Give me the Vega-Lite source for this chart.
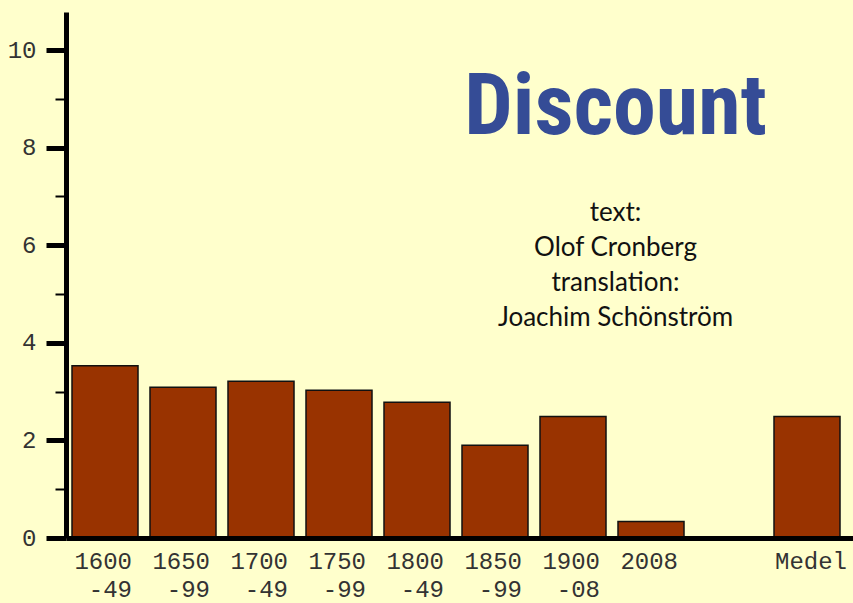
{
  "$schema": "https://vega.github.io/schema/vega-lite/v6.json",
  "autosize": {"type": "none"},
  "padding": {"left": 66, "top": 12, "right": 0, "bottom": 65},
  "width": 787,
  "height": 526,
  "background": "#FFFFCC",
  "config": {"view": {"stroke": null}},
  "title": {
    "text": "Discount",
    "subtitle": ["text:", "Olof Cronberg", "translation:", "Joachim Schönström"],
    "font": "Roboto Condensed, Open Sans Condensed, Liberation Sans Narrow, DejaVu Sans Condensed",
    "fontWeight": "bold",
    "fontSize": 86,
    "color": "#354C96",
    "subtitleFont": "Lato",
    "subtitleFontSize": 26,
    "subtitleColor": "#111111",
    "subtitleLineHeight": 35,
    "subtitlePadding": 48,
    "anchor": "middle",
    "frame": "group",
    "orient": "top",
    "dx": 156,
    "offset": -320
  },
  "data": {
    "values": [
      {"period": "1600 -49", "value": 3.53},
      {"period": "1650 -99", "value": 3.09},
      {"period": "1700 -49", "value": 3.21},
      {"period": "1750 -99", "value": 3.03},
      {"period": "1800 -49", "value": 2.78},
      {"period": "1850 -99", "value": 1.9},
      {"period": "1900 -08", "value": 2.49},
      {"period": "2008", "value": 0.34},
      {"period": "Medel", "value": 2.49}
    ]
  },
  "mark": {"type": "bar", "color": "#993300", "stroke": "#111111", "strokeWidth": 1.5},
  "encoding": {
    "x": {
      "field": "period",
      "type": "nominal",
      "sort": null,
      "scale": {
        "domain": ["1600 -49", "1650 -99", "1700 -49", "1750 -99", "1800 -49", "1850 -99", "1900 -08", "2008", "gap", "Medel"],
        "paddingInner": 0.1538,
        "paddingOuter": 0.1218,
        "align": 0.316
      },
      "axis": {
        "title": null,
        "ticks": false,
        "tickSize": 0,
        "labelAngle": 0,
        "labelExpr": "datum.value == 'gap' ? '' : split(datum.value, ' ')",
        "labelFont": "Liberation Mono",
        "labelFontSize": 24,
        "labelColor": "#333333",
        "labelLineHeight": 28,
        "labelPadding": 11,
        "labelBaseline": "top",
        "labelAlign": "right",
        "labelOffset": {"condition": {"test": "datum.value == 'Medel'", "value": 40}, "value": 27},
        "domainWidth": 5,
        "domainColor": "#000000",
        "zindex": 1
      }
    },
    "y": {
      "field": "value",
      "type": "quantitative",
      "scale": {"domain": [0, 10.78], "nice": false, "zero": true},
      "axis": {
        "title": null,
        "grid": false,
        "values": [0, 1, 2, 3, 4, 5, 6, 7, 8, 9, 10],
        "labelExpr": "datum.value % 2 == 0 ? datum.label : ''",
        "tickSize": {"condition": {"test": "datum.value % 2 == 0", "value": 20}, "value": 11},
        "tickWidth": {"condition": {"test": "datum.value % 2 == 0", "value": 5}, "value": 2},
        "tickColor": "#000000",
        "labelFont": "Liberation Mono",
        "labelFontSize": 24,
        "labelColor": "#333333",
        "labelPadding": 10,
        "domainWidth": 5,
        "domainColor": "#000000",
        "zindex": 1
      }
    }
  }
}
